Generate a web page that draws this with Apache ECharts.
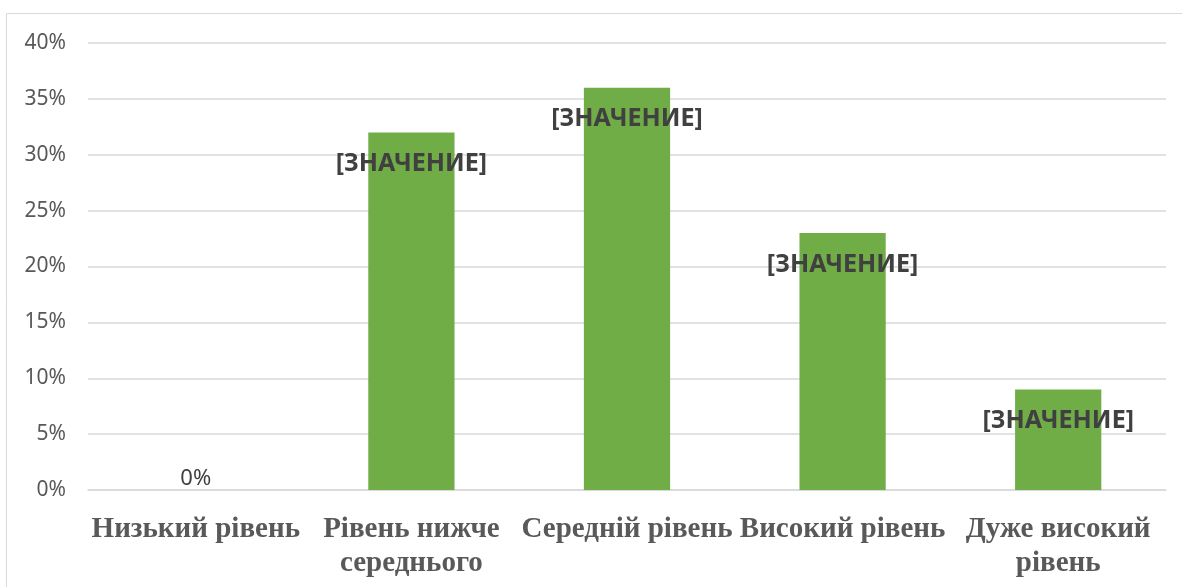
<!DOCTYPE html>
<html><head><meta charset="utf-8">
<script src="https://cdn.jsdelivr.net/npm/echarts@6/dist/echarts.min.js"></script>
<style>html,body{margin:0;padding:0;background:#fff}#c{width:1182px;height:587px}</style>
</head><body><div id="c"></div>
<script>
const categories = ['Низький рівень', 'Рівень нижче\nсереднього', 'Середній рівень', 'Високий рівень', 'Дуже високий\nрівень'];
const values = [0, 32, 36, 23, 9];
const yTicks = [0, 5, 10, 15, 20, 25, 30, 35, 40];
const labelText = '[ЗНАЧЕНИЕ]';

const chart = echarts.init(document.getElementById('c'));
chart.setOption({
  animation: false,
  graphic: [{type:'rect', shape:{x:6.5,y:13.5,width:1200,height:600}, style:{fill:'none', stroke:'#d9d9d9', lineWidth:1}}],
  grid: {left: 88, right: 16, top: 43, bottom: 97},
  xAxis: {
    type: 'category', data: categories,
    axisLine: {show: true, lineStyle: {color: '#d9d9d9', width: 1.5}},
    axisTick: {show: false},
    axisLabel: {fontFamily: 'Liberation Serif', fontWeight: 'bold', fontSize: 29, color: '#595959', margin: 23, lineHeight: 34, interval: 0}
  },
  yAxis: {
    type: 'value', min: yTicks[0], max: yTicks[yTicks.length-1], interval: 5,
    axisLine: {show: false}, axisTick: {show: false},
    splitLine: {lineStyle: {color: '#d9d9d9', width: 1.5}},
    axisLabel: {formatter: v => v + '%', fontFamily: 'Noto Sans', fontSize: 21, color: '#595959', margin: 22}
  },
  series: [{
    type: 'bar', barWidth: '40%',
    itemStyle: {color: '#70ad47'},
    data: values.map(v => v === 0 ? {
      value: v,
      label: {show: true, position: 'top', distance: 0, formatter: p => p.value + '%', fontFamily: 'Noto Sans', fontWeight: 'normal', fontSize: 22, color: '#404040'}
    } : {value: v}),
    label: {show: true, position: 'insideTop', distance: 19, formatter: labelText,
      fontFamily: 'Noto Sans', fontWeight: 'bold', fontSize: 25, color: '#404040'}
  }]
});
</script></body></html>
